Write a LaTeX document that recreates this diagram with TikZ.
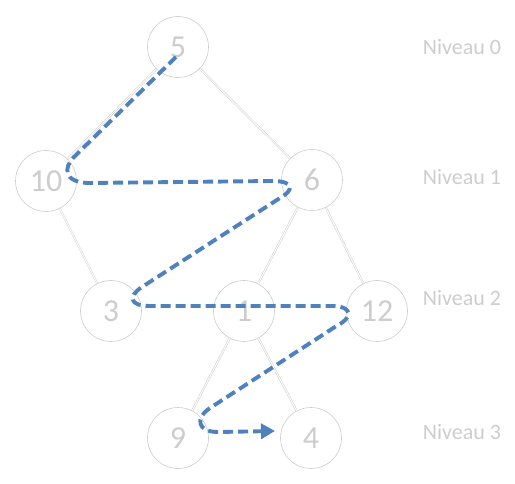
\documentclass[tikz,border=0pt]{standalone}
\usepackage{fontspec}
\setmainfont{Carlito}
\usetikzlibrary{arrows.meta}
\definecolor{edgegray}{RGB}{205,205,205}
\definecolor{txtgray}{RGB}{205,205,205}
\definecolor{pathblue}{RGB}{79,129,189}
\tikzset{
  treenode/.style={circle, draw=edgegray, line width=0.6pt, fill=white, minimum size=61pt, inner sep=0pt, font=\fontsize{32}{32}\selectfont, text=txtgray},
  levellabel/.style={font=\fontsize{22}{22}\selectfont, text=txtgray, inner sep=0pt},
  treeedge/.style={draw=edgegray, double=white, double distance=1pt, line width=0.5pt},
  walk/.style={draw=pathblue, line width=3.9pt, dash pattern=on 10pt off 5pt, -{Triangle[length=14pt,width=15pt]}}
}
\begin{document}
\begin{tikzpicture}[x=1pt,y=-1pt]
\useasboundingbox (0,0) rectangle (515,484);
\path[treeedge] (178,47) -- (46,181);
\node[treenode] (n5)  at (178,47)  {5};
\node[treenode] (n10) at (46,181)  {10};
\node[treenode] (n6)  at (312,180) {6};
\node[treenode] (n3)  at (111,311) {3};
\node[treenode] (n1)  at (244,311) {1};
\node[treenode] (n12) at (377,311) {12};
\node[treenode] (n9)  at (178,438) {9};
\node[treenode] (n4)  at (311,438) {4};
\path[treeedge] (n5) -- (n6);
\path[treeedge] (n10) -- (n3);
\path[treeedge] (n6) -- (n1);
\path[treeedge] (n6) -- (n12);
\path[treeedge] (n1) -- (n9);
\path[treeedge] (n1) -- (n4);
\node[levellabel] (l0) at (462,47)  {Niveau 0};
\node[levellabel] (l1) at (462,177) {Niveau 1};
\node[levellabel] (l2) at (462,298) {Niveau 2};
\node[levellabel] (l3) at (462,432) {Niveau 3};
\coordinate (s) at (176,57);
\coordinate (e) at (275,431);
\draw[walk] (s) -- (74,157) .. controls (63,168) and (64,182) .. (88,183)
  -- (272,181) .. controls (296,181) and (293,191) .. (280,198)
  -- (142,287) .. controls (128,296) and (129,306) .. (150,306)
  -- (334,306) .. controls (353,307) and (352,318) .. (338,325)
  -- (210,408) .. controls (195,418) and (197,432) .. (218,432)
  -- (e);
\end{tikzpicture}
\end{document}
